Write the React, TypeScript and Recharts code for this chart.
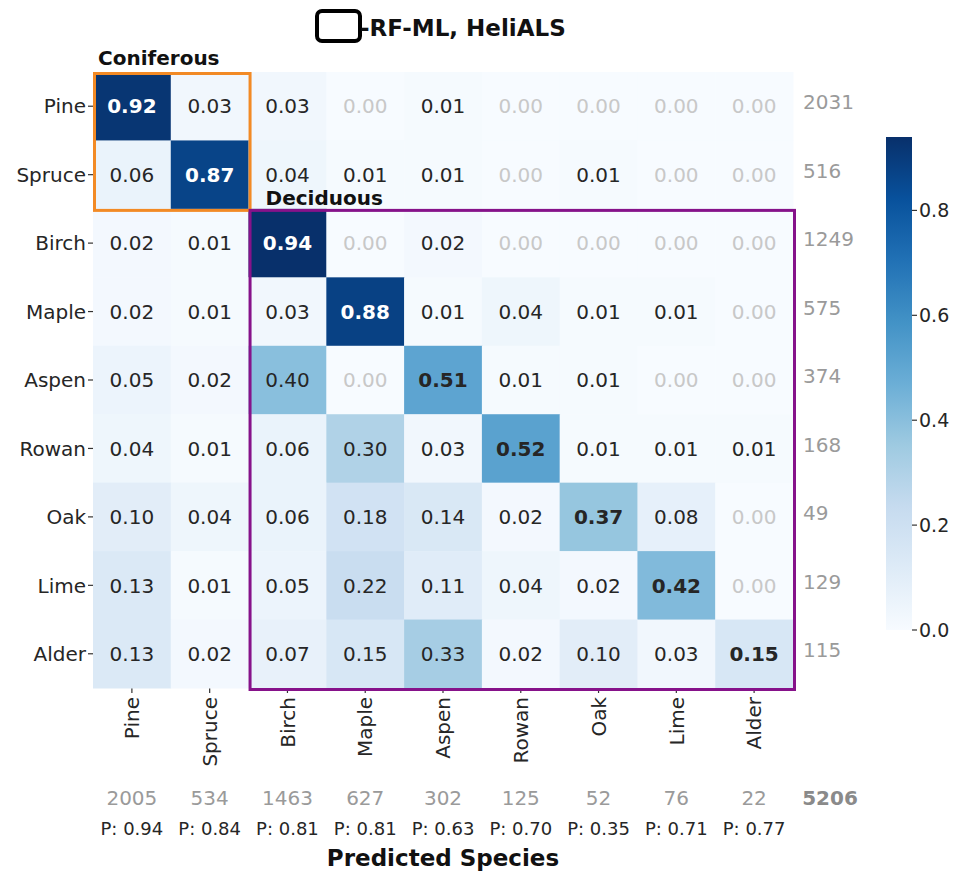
import React from 'react';
import {
  ScatterChart,
  Scatter,
  XAxis,
  YAxis,
  BarChart,
  Bar,
} from 'recharts';

// Species order used for both axes
const SPECIES = ['Pine', 'Spruce', 'Birch', 'Maple', 'Aspen', 'Rowan', 'Oak', 'Lime', 'Alder'];

// Row-normalised confusion matrix (rows = reference species, cols = predicted species)
const ROW_PINE = [0.92, 0.03, 0.03, 0.0, 0.01, 0.0, 0.0, 0.0, 0.0];
const ROW_SPRUCE = [0.06, 0.87, 0.04, 0.01, 0.01, 0.0, 0.01, 0.0, 0.0];
const ROW_BIRCH = [0.02, 0.01, 0.94, 0.0, 0.02, 0.0, 0.0, 0.0, 0.0];
const ROW_MAPLE = [0.02, 0.01, 0.03, 0.88, 0.01, 0.04, 0.01, 0.01, 0.0];
const ROW_ASPEN = [0.05, 0.02, 0.4, 0.0, 0.51, 0.01, 0.01, 0.0, 0.0];
const ROW_ROWAN = [0.04, 0.01, 0.06, 0.3, 0.03, 0.52, 0.01, 0.01, 0.01];
const ROW_OAK = [0.1, 0.04, 0.06, 0.18, 0.14, 0.02, 0.37, 0.08, 0.0];
const ROW_LIME = [0.13, 0.01, 0.05, 0.22, 0.11, 0.04, 0.02, 0.42, 0.0];
const ROW_ALDER = [0.13, 0.02, 0.07, 0.15, 0.33, 0.02, 0.1, 0.03, 0.15];

const MATRIX = [ROW_PINE, ROW_SPRUCE, ROW_BIRCH, ROW_MAPLE, ROW_ASPEN, ROW_ROWAN, ROW_OAK, ROW_LIME, ROW_ALDER];

// Sample counts per reference row and per predicted column
const ROW_COUNTS = [2031, 516, 1249, 575, 374, 168, 49, 129, 115];
const COL_COUNTS = [2005, 534, 1463, 627, 302, 125, 52, 76, 22];
const PRECISION = [0.94, 0.84, 0.81, 0.81, 0.63, 0.7, 0.35, 0.71, 0.77];
const TOTAL = 5206;

// Species groups outlined on the matrix (index range [from, to))
const GROUP_NAMES = ['Coniferous', 'Deciduous'];
const GROUP_FROM = [0, 2];
const GROUP_TO = [2, 9];

// Colour bar ticks
const CBAR_TICKS = [0, 0.2, 0.4, 0.6, 0.8];

const N = SPECIES.length;
const VMAX = Math.max(...MATRIX.flat());
const CENTER_TICKS = SPECIES.map((_, i) => i + 0.5);

const FONT = '"DejaVu Sans", sans-serif';

// Layout of the main heatmap
const W = 959;
const H = 872;
const M_LEFT = 93;
const M_TOP = 72;
const PLOT_W = 700;
const PLOT_H = 616;
const RIGHT_AXIS_W = 70;
const X_AXIS_H = 120;

const CELL_W = PLOT_W / N;
const CELL_H = PLOT_H / N;

// Matplotlib "Blues" colour map stops
const BLUES = ['#f7fbff', '#deebf7', '#c6dbef', '#9ecae1', '#6baed6', '#4292c6', '#2171b5', '#08519c', '#08306b'];

function hexToRgb(h: string) {
  const n = parseInt(h.slice(1), 16);
  return [(n >> 16) & 255, (n >> 8) & 255, n & 255];
}

function blues(t: number) {
  const c = Math.max(0, Math.min(1, t)) * (BLUES.length - 1);
  const i = Math.min(Math.floor(c), BLUES.length - 2);
  const f = c - i;
  const a = hexToRgb(BLUES[i]);
  const b = hexToRgb(BLUES[i + 1]);
  const m = a.map((v, k) => Math.round(v + (b[k] - v) * f));
  return `rgb(${m[0]},${m[1]},${m[2]})`;
}

const cells = MATRIX.flatMap((row, r) =>
  row.map((v, c) => ({ x: c + 0.5, y: r + 0.5, v, r, c }))
);

// Group boxes are anchored at the centre of their first cell
const groups = GROUP_NAMES.map((name, i) => ({
  x: GROUP_FROM[i] + 0.5,
  y: GROUP_FROM[i] + 0.5,
  span: GROUP_TO[i] - GROUP_FROM[i],
  name,
  i,
}));
const GROUP_STROKE = ['#f28a25', '#86128a'];
const GROUP_LABEL_DX = [5, 17];
const GROUP_LABEL_DY = [-7, -4];

function CellShape(props: any) {
  const { cx, cy, payload } = props;
  const { v, r, c } = payload;
  const diag = r === c;
  let color = '#262626';
  if (v === 0) color = '#c8c8c8';
  if (v > 0.6) color = '#ffffff';
  return (
    <g>
      <rect
        x={cx - CELL_W / 2}
        y={cy - CELL_H / 2}
        width={CELL_W + 0.5}
        height={CELL_H + 0.5}
        fill={blues(v / VMAX)}
      />
      <text
        x={cx}
        y={cy}
        dy="0.36em"
        textAnchor="middle"
        fontFamily={FONT}
        fontSize={20}
        fontWeight={diag ? 'bold' : 'normal'}
        fill={color}
      >
        {v.toFixed(2)}
      </text>
    </g>
  );
}

function GroupShape(props: any) {
  const { cx, cy, payload } = props;
  const { span, name, i } = payload;
  const x0 = cx - CELL_W / 2;
  const y0 = cy - CELL_H / 2;
  return (
    <g>
      <rect
        x={x0 + 1.5}
        y={y0 + 1.5}
        width={span * CELL_W}
        height={span * CELL_H}
        fill="none"
        stroke={GROUP_STROKE[i]}
        strokeWidth={3}
      />
      <text
        x={x0 + GROUP_LABEL_DX[i]}
        y={y0 + GROUP_LABEL_DY[i]}
        fontFamily={FONT}
        fontSize={20}
        fontWeight="bold"
        fill="#111"
      >
        {name}
      </text>
    </g>
  );
}

function EmptyShape() {
  return <g />;
}

function XTick(props: any) {
  const { x, y, index } = props;
  return (
    <g>
      <text
        transform={`translate(${x},${y + 2}) rotate(-90)`}
        dy="0.36em"
        textAnchor="end"
        fontFamily={FONT}
        fontSize={20}
        fill="#262626"
      >
        {SPECIES[index]}
      </text>
      <text x={x} y={y + 103} dy="0.36em" textAnchor="middle" fontFamily={FONT} fontSize={20} fill="#9a9a9a">
        {COL_COUNTS[index]}
      </text>
      <text x={x} y={y + 134} dy="0.36em" textAnchor="middle" fontFamily={FONT} fontSize={18} fill="#262626">
        {`P: ${PRECISION[index].toFixed(2)}`}
      </text>
    </g>
  );
}

function YTick(props: any) {
  const { x, y, index } = props;
  return (
    <text x={x} y={y} dy="0.36em" textAnchor="end" fontFamily={FONT} fontSize={20} fill="#262626">
      {SPECIES[index]}
    </text>
  );
}

function CountTick(props: any) {
  const { x, y, index } = props;
  return (
    <text x={x} y={y - 4} dy="0.36em" textAnchor="start" fontFamily={FONT} fontSize={20} fill="#9a9a9a">
      {ROW_COUNTS[index]}
    </text>
  );
}

const CBAR_DATA = [{ name: 'scale', v: VMAX }];

export default function App() {
  return (
    <div style={{ position: 'absolute', left: 0, top: 0, width: W, height: H, background: '#fff', fontFamily: FONT }}>
      {/* Title */}
      <div
        style={{
          position: 'absolute',
          left: 315,
          top: 9,
          width: 39,
          height: 26,
          border: '4px solid #000',
          borderRadius: 7,
        }}
      />
      <div
        style={{
          position: 'absolute',
          left: 360,
          top: 13,
          fontSize: 23,
          fontWeight: 'bold',
          color: '#111',
          lineHeight: '30px',
          whiteSpace: 'nowrap',
        }}
      >
        -RF-ML, HeliALS
      </div>

      <div style={{ position: 'absolute', left: 0, top: 0 }}>
        <ScatterChart
          width={W}
          height={H}
          margin={{ top: M_TOP, left: 0, right: W - M_LEFT - PLOT_W - RIGHT_AXIS_W, bottom: H - M_TOP - PLOT_H - X_AXIS_H }}
        >
          <XAxis
            type="number"
            dataKey="x"
            domain={[0, N]}
            ticks={CENTER_TICKS}
            interval={0}
            axisLine={false}
            tickSize={5}
            tickLine={{ stroke: '#333', strokeWidth: 1.2 }}
            tick={<XTick />}
            height={X_AXIS_H}
          />
          <YAxis
            yAxisId="l"
            type="number"
            dataKey="y"
            domain={[0, N]}
            reversed
            ticks={CENTER_TICKS}
            interval={0}
            axisLine={false}
            tickSize={5}
            tickLine={{ stroke: '#333', strokeWidth: 1.2 }}
            tick={<YTick />}
            width={M_LEFT}
          />
          <YAxis
            yAxisId="r"
            orientation="right"
            type="number"
            dataKey="y"
            domain={[0, N]}
            reversed
            ticks={CENTER_TICKS}
            interval={0}
            axisLine={false}
            tickLine={false}
            tickSize={0}
            tickMargin={10}
            tick={<CountTick />}
            width={RIGHT_AXIS_W}
          />
          <Scatter yAxisId="l" data={cells} shape={<CellShape />} isAnimationActive={false} />
          <Scatter yAxisId="r" data={cells} shape={<EmptyShape />} isAnimationActive={false} />
          <Scatter yAxisId="l" data={groups} shape={<GroupShape />} isAnimationActive={false} />
        </ScatterChart>
      </div>

      {/* Grand total */}
      <div
        style={{
          position: 'absolute',
          left: 790,
          width: 80,
          top: 785,
          textAlign: 'center',
          fontSize: 20,
          fontWeight: 'bold',
          color: '#8a8a8a',
          lineHeight: '26px',
        }}
      >
        {TOTAL}
      </div>

      {/* Axis title */}
      <div
        style={{
          position: 'absolute',
          left: 243,
          width: 400,
          top: 843,
          textAlign: 'center',
          fontSize: 23,
          fontWeight: 'bold',
          color: '#111',
          lineHeight: '30px',
        }}
      >
        Predicted Species
      </div>

      {/* Colour bar */}
      <div style={{ position: 'absolute', left: 886, top: 131 }}>
        <BarChart
          width={73}
          height={525}
          data={CBAR_DATA}
          margin={{ top: 6, left: 0, right: 0, bottom: 26 }}
          barCategoryGap={0}
        >
          <defs>
            <linearGradient id="bluesScale" x1="0" y1="1" x2="0" y2="0">
              {BLUES.map((c, i) => (
                <stop key={c} offset={`${(i / (BLUES.length - 1)) * 100}%`} stopColor={c} />
              ))}
            </linearGradient>
          </defs>
          <XAxis dataKey="name" hide />
          <YAxis
            orientation="right"
            domain={[0, VMAX]}
            ticks={CBAR_TICKS}
            interval={0}
            axisLine={false}
            tickSize={5}
            tickMargin={2}
            tickLine={{ stroke: '#333', strokeWidth: 1.2 }}
            tickFormatter={(v: number) => v.toFixed(1)}
            tick={{ fontFamily: FONT, fontSize: 19, fill: '#262626' }}
            width={47}
          />
          <Bar dataKey="v" fill="url(#bluesScale)" isAnimationActive={false} />
        </BarChart>
      </div>
    </div>
  );
}
